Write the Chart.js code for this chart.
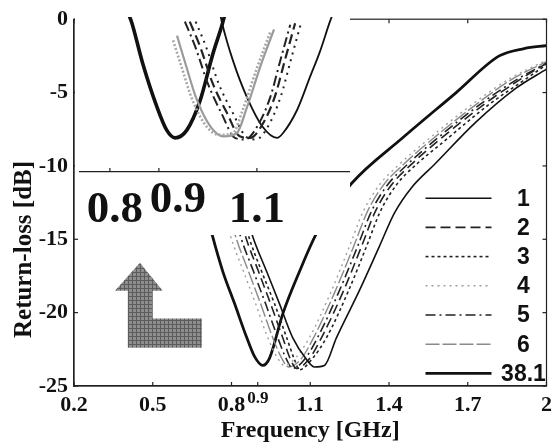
<!DOCTYPE html>
<html>
<head>
<meta charset="utf-8">
<script src="https://cdn.jsdelivr.net/npm/chart.js@4.4.1/dist/chart.umd.min.js"></script>
<style>
    html, body { margin: 0; padding: 0; background: #fff; }
    #contenedor { position: relative; width: 558px; height: 448px; }
    #graficoPrincipal { position: absolute; left: 0; top: 0; }
    #graficoDetalle { position: absolute; left: 75px; top: 17px; background: #fff; }
</style>
</head>
<body>
<div id="contenedor">
    <canvas id="graficoPrincipal" width="558" height="448"></canvas>
    <canvas id="graficoDetalle" width="275" height="218"></canvas>
</div>
<script>

// ------------------------------------------------ DATOS ------------------------------------------------

    const ticksX = [0.2, 0.5, 0.8, 0.9, 1.1, 1.4, 1.7, 2];
    const ticksY = [0, -5, -10, -15, -20, -25];
    const ticksDetalle = [0.8, 0.9, 1.1];

    const nombresCurvas = ['1', '2', '3', '4', '5', '6', '38.1'];

    // curvas del grafico principal (frecuencia en GHz, perdidas en dB)
    const freq1 = [0.85, 0.877, 0.934, 0.983, 1.033, 1.086, 1.116, 1.154, 1.200, 1.287, 1.363, 1.421, 1.485, 1.573, 1.732, 1.884, 2.0];
    const rl1 = [-12.8, -14.6, -17.2, -19.4, -21.7, -23.2, -23.7, -23.6, -21.7, -18.5, -15.5, -13.2, -11.5, -9.9, -7.0, -4.7, -3.4];

    const freq2 = [0.825, 0.850, 0.903, 0.949, 0.995, 1.025, 1.048, 1.094, 1.143, 1.227, 1.295, 1.348, 1.409, 1.485, 1.580, 1.770, 1.900, 2.0];
    const rl2 = [-12.8, -14.6, -17.2, -19.4, -21.7, -23.2, -23.8, -23.2, -21.7, -18.5, -15.5, -13.1, -11.3, -9.9, -8.4, -5.7, -4.1, -3.0];

    const freq3 = [0.837, 0.862, 0.915, 0.964, 1.010, 1.040, 1.059, 1.105, 1.162, 1.246, 1.314, 1.367, 1.428, 1.504, 1.598, 1.782, 1.911, 2.0];
    const rl3 = [-12.8, -14.6, -17.2, -19.4, -21.7, -23.2, -23.9, -23.2, -21.7, -18.5, -15.5, -13.1, -11.3, -9.9, -8.5, -5.8, -4.2, -3.1];

    const freq4 = [0.768, 0.793, 0.846, 0.892, 0.938, 0.976, 1.002, 1.048, 1.097, 1.181, 1.249, 1.302, 1.363, 1.439, 1.535, 1.725, 1.865, 2.0];
    const rl4 = [-12.8, -14.6, -17.2, -19.4, -21.7, -23.1, -23.6, -23.0, -21.7, -18.5, -15.5, -13.1, -11.3, -9.9, -8.4, -5.7, -4.0, -2.8];

    const freq5 = [0.806, 0.831, 0.884, 0.930, 0.976, 1.010, 1.033, 1.078, 1.128, 1.211, 1.280, 1.333, 1.394, 1.470, 1.565, 1.755, 1.888, 2.0];
    const rl5 = [-12.8, -14.6, -17.2, -19.4, -21.7, -23.2, -23.8, -23.2, -21.7, -18.5, -15.5, -13.1, -11.3, -9.9, -8.4, -5.7, -4.1, -3.0];

    const freq6 = [0.787, 0.812, 0.865, 0.911, 0.957, 0.991, 1.017, 1.063, 1.113, 1.196, 1.265, 1.318, 1.379, 1.455, 1.550, 1.740, 1.877, 2.0];
    const rl6 = [-12.8, -14.6, -17.2, -19.4, -21.7, -23.1, -23.7, -23.2, -21.7, -18.5, -15.5, -13.1, -11.3, -9.9, -8.4, -5.7, -4.0, -2.9];

    const freq381 = [0.70, 0.725, 0.767, 0.812, 0.858, 0.888, 0.919, 0.945, 0.995, 1.059, 1.124, 1.192, 1.257, 1.451, 1.656, 1.820, 1.915, 2.0];
    const rl381 = [-12.8, -14.6, -17.2, -19.4, -21.7, -23.0, -23.6, -23.1, -20.1, -17.2, -14.6, -12.8, -11.2, -8.1, -5.0, -2.5, -2.0, -1.8];

    // curvas del recuadro ampliado
    const detFreq1 = [1.025, 1.029, 1.051, 1.080, 1.112, 1.141, 1.153, 1.182, 1.208, 1.229, 1.249, 1.255];
    const detRl1 = [0.2, -0.4, -2.8, -5.2, -7.1, -7.8, -7.5, -6.0, -3.9, -2.2, -0.3, 0.2];

    const detFreq2 = [0.963, 0.984, 1.010, 1.039, 1.065, 1.086, 1.110, 1.137, 1.157, 1.178];
    const detRl2 = [-0.3, -1.9, -4.3, -6.2, -7.7, -7.8, -7.0, -5.1, -2.8, -0.4];

    const detFreq3 = [0.975, 0.996, 1.022, 1.051, 1.077, 1.098, 1.122, 1.149, 1.169, 1.190];
    const detRl3 = [-0.3, -1.9, -4.3, -6.2, -7.7, -7.9, -7.1, -5.1, -2.8, -0.4];

    const detFreq4 = [0.929, 0.947, 0.969, 0.998, 1.024, 1.051, 1.071, 1.100, 1.127];
    const detRl4 = [-1.5, -3.3, -5.4, -7.1, -7.6, -7.5, -6.0, -3.3, -1.0];

    const detFreq5 = [0.953, 0.974, 1.000, 1.029, 1.055, 1.076, 1.100, 1.127, 1.147, 1.168];
    const detRl5 = [-0.3, -1.9, -4.3, -6.3, -7.8, -7.9, -7.1, -5.2, -2.9, -0.5];

    const detFreq6 = [0.937, 0.955, 0.977, 1.006, 1.032, 1.059, 1.079, 1.108, 1.135];
    const detRl6 = [-1.2, -3.1, -5.3, -7.1, -7.7, -7.5, -5.9, -3.1, -0.8];

    const detFreq381 = [0.838, 0.845, 0.867, 0.896, 0.916, 0.933, 0.957, 0.984, 1.010, 1.029, 1.035];
    const detRl381 = [0.2, -0.4, -3.0, -5.8, -7.3, -7.8, -7.3, -5.4, -2.4, -0.5, 0.2];

    function serie(frecuencias, perdidas) {
        return frecuencias.map((f, i) => ({ x: f, y: perdidas[i] }));
    }

    Chart.defaults.font.family = "'Liberation Serif', 'Times New Roman', serif";
    Chart.defaults.font.weight = 'bold';
    Chart.defaults.color = '#111';

    const estiloLinea = { pointRadius: 0, fill: false, cubicInterpolationMode: 'monotone' };

// ------------------------------------------------ MARCO, FLECHA Y LEYENDA ------------------------------------------------

    function linea(ctx, x1, y1, x2, y2) {
        ctx.beginPath();
        ctx.moveTo(x1, y1);
        ctx.lineTo(x2, y2);
        ctx.stroke();
    }

    function tramaGris(ctx) {
        const c = document.createElement('canvas');
        c.width = 4; c.height = 4;
        const t = c.getContext('2d');
        t.fillStyle = '#8e8e8e';
        t.fillRect(0, 0, 4, 4);
        t.fillStyle = '#5c5c5c';
        t.fillRect(0, 0, 4, 1);
        t.fillRect(0, 0, 1, 4);
        return ctx.createPattern(c, 'repeat');
    }

    const pluginMarco = {
        id: 'marco',
        afterDatasetsDraw(chart) {
            const { ctx, chartArea: a, scales: { x, y } } = chart;
            ctx.save();
            ctx.strokeStyle = '#222';
            ctx.lineWidth = 1.2;
            ctx.strokeRect(a.left, a.top, a.right - a.left, a.bottom - a.top);
            ticksX.forEach(v => {
                const px = x.getPixelForValue(v);
                linea(ctx, px, a.bottom, px, a.bottom - 4);
                linea(ctx, px, a.top, px, a.top + 4);
            });
            ticksY.forEach(v => {
                const py = y.getPixelForValue(v);
                linea(ctx, a.left, py, a.left + 4, py);
                linea(ctx, a.right, py, a.right - 4, py);
            });

            // flecha en L (coordenadas de datos)
            const flecha = [[0.451, -16.6], [0.538, -18.5], [0.500, -18.5], [0.500, -20.4], [0.687, -20.4],
                            [0.687, -22.4], [0.405, -22.4], [0.405, -18.5], [0.356, -18.5]];
            ctx.beginPath();
            flecha.forEach((p, i) => {
                const px = x.getPixelForValue(p[0]);
                const py = y.getPixelForValue(p[1]);
                if (i === 0) ctx.moveTo(px, py); else ctx.lineTo(px, py);
            });
            ctx.closePath();
            ctx.fillStyle = tramaGris(ctx);
            ctx.fill();

            // leyenda
            ctx.font = "bold 23px 'Liberation Sans', Arial, sans-serif";
            ctx.textAlign = 'center';
            ctx.textBaseline = 'middle';
            chart.data.datasets.forEach((ds, i) => {
                const yy = a.top + 179 + i * 29.2;
                ctx.strokeStyle = ds.borderColor;
                ctx.lineWidth = ds.borderWidth;
                ctx.setLineDash(ds.borderDash || []);
                linea(ctx, a.right - 121, yy, a.right - 55, yy);
                ctx.setLineDash([]);
                ctx.fillStyle = '#111';
                ctx.fillText(ds.label, a.right - 23, yy + 1);
            });
            ctx.restore();
        }
    };

// ------------------------------------------------ GRAFICO PRINCIPAL ------------------------------------------------

    const configPrincipal = {
        type: 'line',
        data: {
            datasets: [
                { label: nombresCurvas[0], data: serie(freq1, rl1), borderColor: '#111', borderWidth: 1.6, borderDash: [], ...estiloLinea },
                { label: nombresCurvas[1], data: serie(freq2, rl2), borderColor: '#222', borderWidth: 1.6, borderDash: [10, 5], ...estiloLinea },
                { label: nombresCurvas[2], data: serie(freq3, rl3), borderColor: '#222', borderWidth: 1.6, borderDash: [3, 3], ...estiloLinea },
                { label: nombresCurvas[3], data: serie(freq4, rl4), borderColor: '#a0a0a0', borderWidth: 1.4, borderDash: [2, 4], ...estiloLinea },
                { label: nombresCurvas[4], data: serie(freq5, rl5), borderColor: '#222', borderWidth: 1.6, borderDash: [10, 4, 2, 4], ...estiloLinea },
                { label: nombresCurvas[5], data: serie(freq6, rl6), borderColor: '#8a8a8a', borderWidth: 1.4, borderDash: [14, 3], ...estiloLinea },
                { label: nombresCurvas[6], data: serie(freq381, rl381), borderColor: '#111', borderWidth: 2.8, borderDash: [], ...estiloLinea }
            ]
        },
        options: {
            responsive: false,
            animation: false,
            layout: { padding: { left: 0, top: 16, right: 10, bottom: 0 } },
            plugins: { legend: { display: false }, tooltip: { enabled: false } },
            scales: {
                x: {
                    type: 'linear',
                    min: 0.2,
                    max: 2,
                    afterBuildTicks: s => { s.ticks = ticksX.map(v => ({ value: v })); },
                    afterFit: s => { s.height = 62; },
                    grid: { display: false, drawTicks: false },
                    border: { display: true, color: '#222', width: 1.2 },
                    ticks: {
                        autoSkip: false,
                        maxRotation: 0,
                        padding: 6,
                        font: ctx => (ctx.tick && ctx.tick.value === 0.9)
                            ? { size: 17, weight: 'bold', lineHeight: 0.75 }
                            : { size: 22, weight: 'bold' },
                        callback: v => String(v)
                    },
                    title: {
                        display: true,
                        text: 'Frequency [GHz]',
                        font: { size: 24, weight: 'bold' },
                        padding: { top: 0, bottom: 3 }
                    }
                },
                y: {
                    min: -25,
                    max: 0,
                    afterBuildTicks: s => { s.ticks = ticksY.map(v => ({ value: v })); },
                    afterFit: s => { s.width = 74; },
                    grid: { display: false, drawTicks: false },
                    border: { display: true, color: '#222', width: 1.2 },
                    ticks: { padding: 6, font: { size: 22, weight: 'bold' } },
                    title: {
                        display: true,
                        text: 'Return-loss [dB]' + '\u00a0'.repeat(15),
                        font: { size: 25, weight: 'bold' },
                        padding: { top: 10, bottom: 0 }
                    }
                }
            }
        },
        plugins: [pluginMarco]
    };

    var principalChart = new Chart(
        document.getElementById('graficoPrincipal'),
        configPrincipal
    );

// ------------------------------------------------ RECUADRO AMPLIADO ------------------------------------------------

    const pluginEtiquetasDetalle = {
        id: 'etiquetasDetalle',
        afterDraw(chart) {
            const { ctx, chartArea: a, scales: { x } } = chart;
            const ajustes = [[5, 0], [19, -10], [0, 0]];
            ctx.save();
            ctx.strokeStyle = '#222';
            ctx.lineWidth = 1.2;
            ctx.fillStyle = '#111';
            ctx.font = "bold 45px 'Liberation Serif', 'Times New Roman', serif";
            ctx.textAlign = 'center';
            ctx.textBaseline = 'alphabetic';
            ticksDetalle.forEach((v, i) => {
                const px = x.getPixelForValue(v);
                linea(ctx, px, a.bottom, px, a.bottom - 4);
                ctx.fillText(String(v), px + ajustes[i][0], a.bottom + 50 + ajustes[i][1]);
            });
            ctx.restore();
        }
    };

    const configDetalle = {
        type: 'line',
        data: {
            datasets: [
                { data: serie(detFreq4, detRl4), borderColor: '#a8a8a8', borderWidth: 2.6, borderDash: [2, 2], ...estiloLinea },
                { data: serie(detFreq6, detRl6), borderColor: '#9a9a9a', borderWidth: 2.2, ...estiloLinea },
                { data: serie(detFreq2, detRl2), borderColor: '#222', borderWidth: 2.2, borderDash: [10, 5], ...estiloLinea },
                { data: serie(detFreq3, detRl3), borderColor: '#222', borderWidth: 2, borderDash: [2, 5], ...estiloLinea },
                { data: serie(detFreq5, detRl5), borderColor: '#222', borderWidth: 2, borderDash: [10, 4, 2, 4], ...estiloLinea },
                { data: serie(detFreq1, detRl1), borderColor: '#111', borderWidth: 1.8, ...estiloLinea },
                { data: serie(detFreq381, detRl381), borderColor: '#111', borderWidth: 3.6, ...estiloLinea }
            ]
        },
        options: {
            responsive: false,
            animation: false,
            layout: { padding: { left: 5, top: 0, right: 0, bottom: 0 } },
            plugins: { legend: { display: false }, tooltip: { enabled: false } },
            scales: {
                x: {
                    type: 'linear',
                    min: 0.739,
                    max: 1.29,
                    afterFit: s => { s.height = 63; },
                    grid: { display: false, drawTicks: false },
                    ticks: { display: false },
                    border: { display: true, color: '#222', width: 1.2 }
                },
                y: { display: false, min: -10, max: 0 }
            }
        },
        plugins: [pluginEtiquetasDetalle]
    };

    var detalleChart = new Chart(
        document.getElementById('graficoDetalle'),
        configDetalle
    );

</script>
</body>
</html>
